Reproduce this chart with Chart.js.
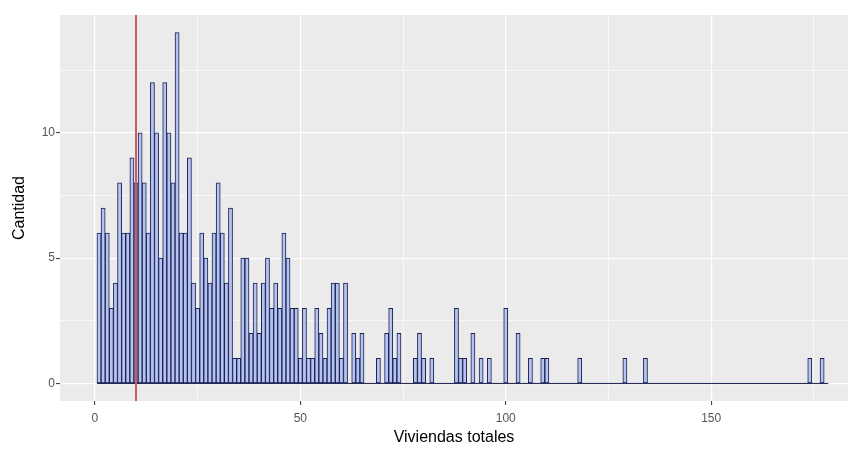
<!DOCTYPE html>
<html>
<head>
<meta charset="utf-8">
<script src="https://cdn.jsdelivr.net/npm/chart.js@4/dist/chart.umd.min.js"></script>
<style>
  html, body { margin: 0; padding: 0; background: #fff; }
  #wrap { width: 860px; height: 459px; }
</style>
</head>
<body>
<div id="wrap"><canvas id="myChart" width="860" height="459"></canvas></div>
<script>
// histograma de viviendas totales, ancho de clase 1

// primer valor de clase
const firstBin = 1;
// cantidad por clase (1, 2, 3, ... 178)
const counts = [
  6, 7, 6, 3, 4, 8, 6, 6, 9, 8,        // 1-10
  10, 8, 6, 12, 10, 5, 12, 10, 8, 14,  // 11-20
  6, 6, 9, 4, 3, 6, 5, 4, 6, 8,        // 21-30
  6, 4, 7, 1, 1, 5, 5, 2, 4, 2,        // 31-40
  4, 5, 3, 4, 3, 6, 5, 3, 3, 1,        // 41-50
  3, 1, 1, 3, 2, 1, 3, 4, 4, 1,        // 51-60
  4, 0, 2, 1, 2, 0, 0, 0, 1, 0,        // 61-70
  2, 3, 1, 2, 0, 0, 0, 1, 2, 1,        // 71-80
  0, 1, 0, 0, 0, 0, 0, 3, 1, 1,        // 81-90
  0, 2, 0, 1, 0, 1, 0, 0, 0, 3,        // 91-100
  0, 0, 2, 0, 0, 1, 0, 0, 1, 1,        // 101-110
  0, 0, 0, 0, 0, 0, 0, 1, 0, 0,        // 111-120
  0, 0, 0, 0, 0, 0, 0, 0, 1, 0,        // 121-130
  0, 0, 0, 1, 0, 0, 0, 0, 0, 0,        // 131-140
  0, 0, 0, 0, 0, 0, 0, 0, 0, 0,        // 141-150
  0, 0, 0, 0, 0, 0, 0, 0, 0, 0,        // 151-160
  0, 0, 0, 0, 0, 0, 0, 0, 0, 0,        // 161-170
  0, 0, 0, 1, 0, 0, 1, 0               // 171-178
];
// linea de referencia (rojo)
const refLine = 10;
// ticks
const xTicks = [0, 50, 100, 150];
const xMinor = [25, 75, 125, 175];
const yTicks = [0, 5, 10];
const yMinor = [2.5, 7.5, 12.5];

const fillColor = "rgb(180,195,240)";
const lineColor = "rgb(26,32,82)";
const panelColor = "#ebebeb";
const fontFam = "Liberation Sans, Arial, sans-serif";

// 1. datos de barras
let bars = [];
for (let i = 0; i < counts.length; i++) {
  bars.push({ x: firstBin + i, y: counts[i] });
}
// linea base bajo todas las clases
let lastBin = firstBin + counts.length - 1;
let base = [{ x: firstBin - 0.5, y: 0 }, { x: lastBin + 0.5, y: 0 }];

// devuelve true si el tick es principal
function major(list, c) {
  return !!(c && c.tick && list.indexOf(c.tick.value) >= 0);
}

const panelBg = {
  id: "panelBg",
  beforeDraw(chart) {
    const a = chart.chartArea;
    const ctx = chart.ctx;
    ctx.save();
    ctx.fillStyle = panelColor;
    ctx.fillRect(a.left, a.top, a.right - a.left, a.bottom - a.top);
    ctx.restore();
  }
};

const redLine = {
  id: "redLine",
  afterDatasetsDraw(chart) {
    const a = chart.chartArea;
    const ctx = chart.ctx;
    const px = chart.scales.x.getPixelForValue(refLine);
    ctx.save();
    ctx.strokeStyle = "rgb(205,92,92)";
    ctx.lineWidth = 2;
    ctx.beginPath();
    ctx.moveTo(px, a.top);
    ctx.lineTo(px, a.bottom);
    ctx.stroke();
    ctx.restore();
  }
};

const ctx = document.getElementById("myChart");

new Chart(ctx, {
  type: "bar",
  data: {
    datasets: [
      {
        type: "line",
        data: base,
        borderColor: lineColor,
        borderWidth: 1,
        pointRadius: 0,
        order: 0
      },
      {
        label: "Cantidad",
        data: bars,
        backgroundColor: fillColor,
        borderColor: lineColor,
        borderWidth: 1,
        borderSkipped: false,
        barPercentage: 1,
        categoryPercentage: 1,
        order: 1
      }
    ]
  },
  options: {
    responsive: false,
    animation: false,
    events: [],
    layout: { padding: { top: 15, right: 12, left: 10, bottom: 12 } },
    plugins: { legend: { display: false }, tooltip: { enabled: false } },
    scales: {
      x: {
        type: "linear",
        offset: false,
        min: -8.5,
        max: 183.3,
        afterBuildTicks(scale) {
          scale.ticks = xTicks.concat(xMinor).sort((a, b) => a - b).map(v => ({ value: v }));
        },
        afterFit(scale) { scale.height = 46; },
        border: { display: false },
        grid: {
          offset: false,
          color: "#ffffff",
          lineWidth: c => major(xTicks, c) ? 1.2 : 0.6,
          tickLength: 4,
          tickColor: c => major(xTicks, c) ? "#333333" : "rgba(0,0,0,0)",
          tickWidth: 1
        },
        ticks: {
          autoSkip: false,
          maxRotation: 0,
          padding: 6,
          color: "#555555",
          font: { family: fontFam, size: 12 },
          callback: v => xTicks.indexOf(v) >= 0 ? String(v) : ""
        },
        title: {
          display: true,
          text: "Viviendas totales",
          color: "#000000",
          padding: { top: 0, bottom: 0 },
          font: { family: fontFam, size: 16 }
        }
      },
      y: {
        type: "linear",
        min: -0.7,
        max: 14.7,
        afterBuildTicks(scale) {
          scale.ticks = yTicks.concat(yMinor).sort((a, b) => a - b).map(v => ({ value: v }));
        },
        afterFit(scale) { scale.width = 50; },
        border: { display: false },
        grid: {
          offset: false,
          color: "#ffffff",
          lineWidth: c => major(yTicks, c) ? 1.2 : 0.6,
          tickLength: 4,
          tickColor: c => major(yTicks, c) ? "#333333" : "rgba(0,0,0,0)",
          tickWidth: 1
        },
        ticks: {
          autoSkip: false,
          padding: 1,
          color: "#555555",
          font: { family: fontFam, size: 12 },
          callback: v => yTicks.indexOf(v) >= 0 ? String(v) : ""
        },
        title: {
          display: true,
          text: "Cantidad",
          color: "#000000",
          padding: { top: 0, bottom: 0 },
          font: { family: fontFam, size: 16 }
        }
      }
    }
  },
  plugins: [panelBg, redLine]
});
</script>
</body>
</html>
